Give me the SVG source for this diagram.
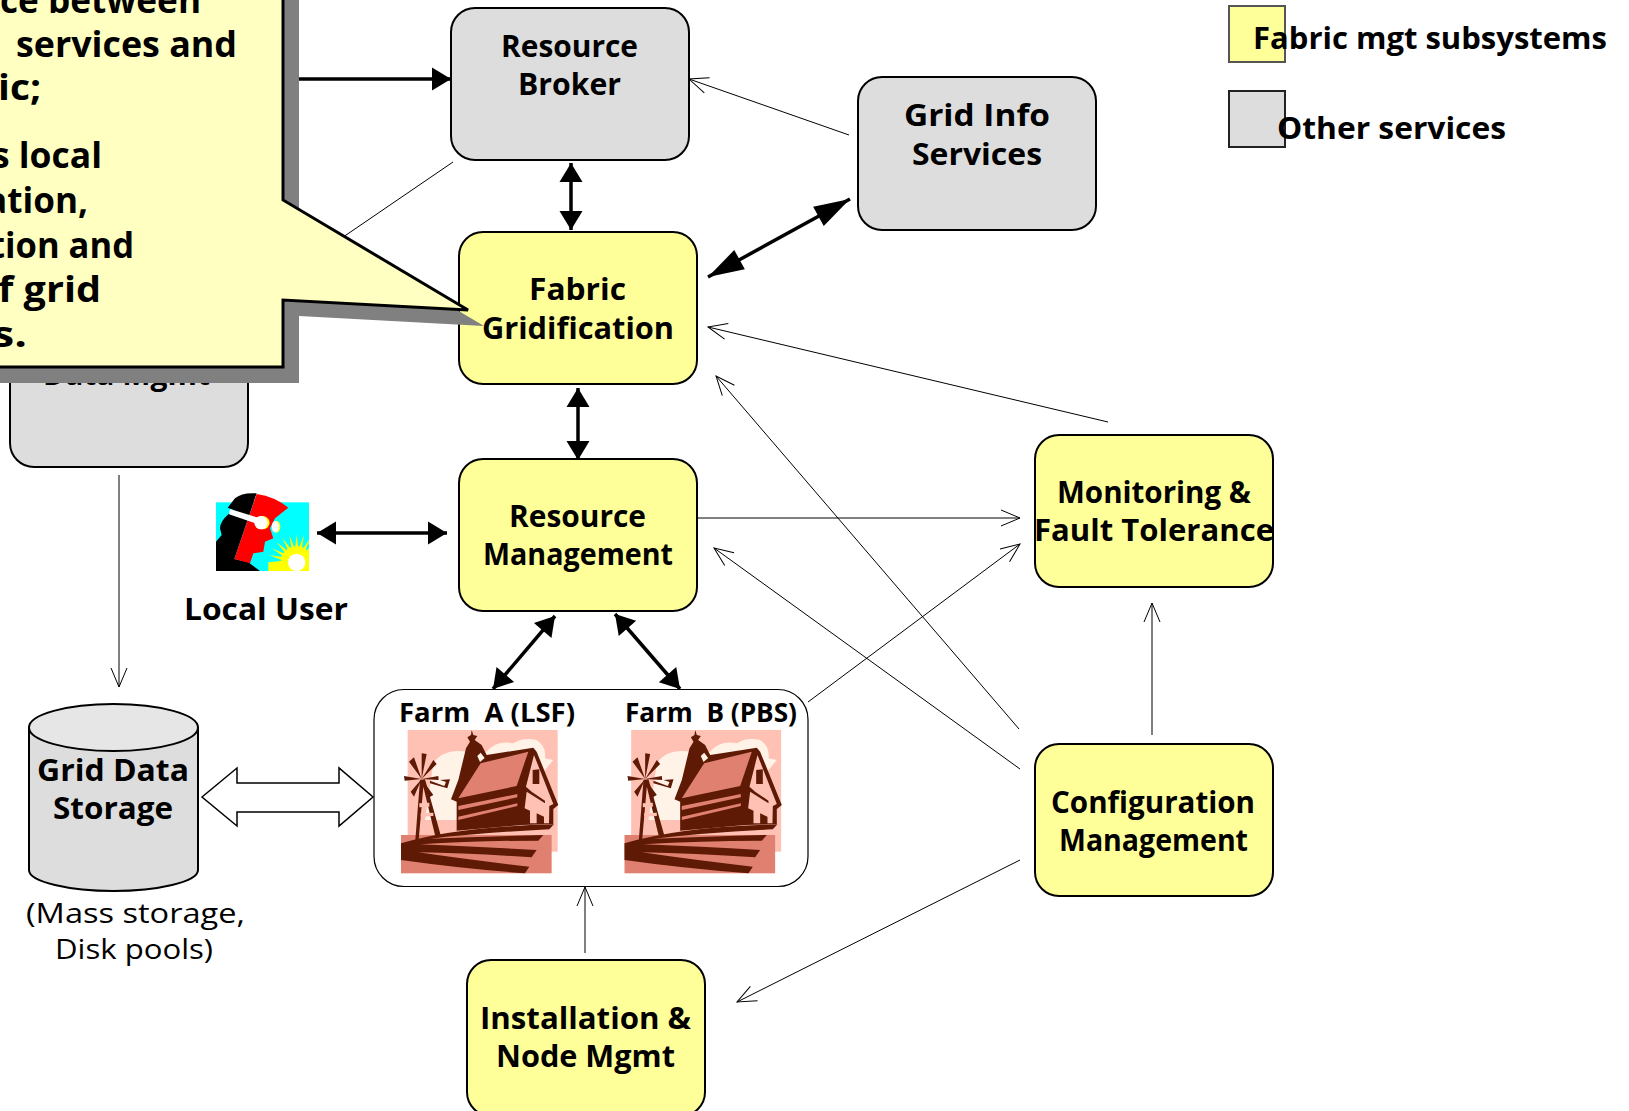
<svg xmlns="http://www.w3.org/2000/svg" xmlns:xlink="http://www.w3.org/1999/xlink" width="1629" height="1111" viewBox="0 0 1629 1111">
<style>
text{font-family:"Open Sans","Liberation Sans",sans-serif;fill:#000}
.l{font-size:30px;font-weight:700}
.c{font-size:35px;font-weight:700}
.f{font-size:27px;font-weight:700}
.n{font-size:28px;font-weight:500}
.y{fill:#FFFF99;stroke:#000;stroke-width:2}
.g{fill:#DDDDDD;stroke:#000;stroke-width:2}
.thin{fill:none;stroke:#000;stroke-width:1;marker-end:url(#open)}
.bold{fill:none;stroke:#000;stroke-width:3.500;marker-start:url(#solidS);marker-end:url(#solid)}
</style>
<defs>
<marker id="open" markerUnits="userSpaceOnUse" markerWidth="40" markerHeight="40" refX="30" refY="20" orient="auto" overflow="visible"><path d="M11,12 L30,20 L11,28" fill="none" stroke="#000" stroke-width="1"/></marker>
<marker id="solid" markerUnits="userSpaceOnUse" markerWidth="40" markerHeight="40" refX="30" refY="20" orient="auto" overflow="visible"><path d="M11,8.500 L30,20 L11,31.500 Z" fill="#000"/></marker>
<marker id="solidS" markerUnits="userSpaceOnUse" markerWidth="40" markerHeight="40" refX="10" refY="20" orient="auto" overflow="visible"><path d="M29,8.500 L10,20 L29,31.500 Z" fill="#000"/></marker>
<marker id="big" markerUnits="userSpaceOnUse" markerWidth="60" markerHeight="60" refX="50" refY="30" orient="auto" overflow="visible"><path d="M14,19 L50,30 L14,41 Z" fill="#000"/></marker>
<marker id="bigS" markerUnits="userSpaceOnUse" markerWidth="60" markerHeight="60" refX="10" refY="30" orient="auto" overflow="visible"><path d="M46,19 L10,30 L46,41 Z" fill="#000"/></marker>
<clipPath id="sunClip"><rect x="33" y="52" width="279" height="206"/></clipPath>
<g id="farmPic">
<rect x="53" y="150" width="450" height="365" fill="#FFC1B3"/>
<path d="M105,420 L130,250 Q160,205 230,215 L290,215 Q320,180 370,190 Q400,170 440,180 Q470,200 465,235 L490,240 L440,300 L400,420 Z" fill="#FFF2E6"/>
<rect x="33" y="465" width="452" height="115" fill="#E08070"/>
<g fill="#5F1A05">
<path d="M183,358 L205,300 L228,205 L240,185 L232,172 L243,165 L245,150 L250,165 L262,168 L254,180 L275,195 L290,225 L430,203 L440,215 L505,375 L490,387 L490,432 L395,435 L200,452 L200,365 Z"/>
<path d="M262,228 L272,218 L284,234 L270,246 Z" fill="#FFF2E6"/>
<path d="M90,300 L76,480 L86,480 L100,320 L135,465 L152,465 L105,298 Z"/>
<path d="M95,297 L57,245 L72,232 Z M95,297 L95,220 L110,222 Z M95,297 L130,240 L140,252 Z M95,297 L145,288 L146,300 Z M95,297 L130,345 L118,352 Z M95,297 L62,335 L72,350 Z M95,297 L42,288 L44,302 Z"/>
<path d="M120,310 L172,325 L180,298 L150,300 L168,306 L163,318 L120,302 Z"/>
<path d="M33,490 Q200,440 492,433 L478,448 Q280,458 120,476 Q280,470 460,465 L445,482 Q260,482 90,493 Q260,500 440,510 L425,532 Q240,520 85,517 Q240,540 418,560 L405,580 Q210,565 33,540 Z"/>
</g>
<path d="M205,355 L272,250 L415,215 L380,318 Z" fill="#E08070"/>
<path d="M408,320 L432,225 L490,372 L478,378 L477,430 L462,430 L462,410 L440,400 L440,430 L420,430 L420,392 L404,385 L410,335 L465,370 L465,362 L425,335 Z" fill="#FFC1B3"/>
<path d="M428,270 L448,268 L448,312 L428,312 Z" fill="#5F1A05"/>
<path d="M205,378 L382,342 L382,352 L205,390 Z M205,410 L382,370 L382,378 L205,420 Z" fill="#E08070"/>
<path d="M88,370 L118,368 L118,380 L88,382 Z M92,400 L130,398 L130,408 L92,410 Z" fill="#FFC1B3"/>
</g>
</defs>
<rect width="1629" height="1111" fill="#fff"/>

<g id="node-data-mgmt"><rect class="g" x="10" y="300" width="238" height="167" rx="24"/><text class="l" x="43" y="385" textLength="167" lengthAdjust="spacingAndGlyphs">Data Mgmt</text></g>

<g id="connectors">
<path class="thin" d="M849,135 L689,79"/>
<path class="thin" d="M1108,422 L708,327"/>
<path class="thin" d="M1019,729 L716,376"/>
<path class="thin" d="M1020,769 L714,548"/>
<path class="thin" d="M697,518 L1020,518"/>
<path class="thin" d="M808,702 L1020,544"/>
<path class="thin" d="M1152,735 L1152,603"/>
<path class="thin" d="M1020,860 L737,1002"/>
<path class="thin" d="M585,953 L585,887"/>
<path class="thin" d="M119,475 L119,687"/>
<path d="M280,79 L451,79" fill="none" stroke="#000" stroke-width="3.500" marker-end="url(#solid)"/>
<path class="bold" d="M571,163 L571,230"/>
<path d="M708,277 L850,199" fill="none" stroke="#000" stroke-width="3.500" marker-start="url(#bigS)" marker-end="url(#big)"/>
<path class="bold" d="M578,388 L578,460"/>
<path class="bold" d="M317,533 L447,533"/>
<path class="bold" d="M555,616 L493,689"/>
<path class="bold" d="M615,614 L680,689"/>
<path d="M453,162 L330,246" fill="none" stroke="#000" stroke-width="1"/>
<path d="M202,797 L237,768 L237,783 L339,783 L339,768 L373,797 L339,826 L339,812 L237,812 L237,826 Z" fill="#fff" stroke="#000" stroke-width="1.500"/>
</g>

<g id="node-resource-broker"><rect class="g" x="451" y="8" width="238" height="152" rx="24"/>
<text class="l" x="501" y="57" textLength="137" lengthAdjust="spacingAndGlyphs">Resource</text><text class="l" x="518" y="95" textLength="103" lengthAdjust="spacingAndGlyphs">Broker</text></g>
<g id="node-grid-info"><rect class="g" x="858" y="77" width="238" height="153" rx="24"/>
<text class="l" x="904" y="126" textLength="146" lengthAdjust="spacingAndGlyphs">Grid Info</text><text class="l" x="912" y="165" textLength="130" lengthAdjust="spacingAndGlyphs">Services</text></g>
<g id="node-fabric-gridification"><rect class="y" x="459" y="232" width="238" height="152" rx="24"/>
<text class="l" x="529" y="300" textLength="97" lengthAdjust="spacingAndGlyphs">Fabric</text><text class="l" x="482" y="339" textLength="192" lengthAdjust="spacingAndGlyphs">Gridification</text></g>
<g id="node-resource-management"><rect class="y" x="459" y="459" width="238" height="152" rx="24"/>
<text class="l" x="509" y="527" textLength="137" lengthAdjust="spacingAndGlyphs">Resource</text><text class="l" x="483" y="565" textLength="190" lengthAdjust="spacingAndGlyphs">Management</text></g>
<g id="node-monitoring"><rect class="y" x="1035" y="435" width="238" height="152" rx="24"/>
<text class="l" x="1057" y="503" textLength="194" lengthAdjust="spacingAndGlyphs">Monitoring &amp;</text><text class="l" x="1034" y="541" textLength="240" lengthAdjust="spacingAndGlyphs">Fault Tolerance</text></g>
<g id="node-configuration"><rect class="y" x="1035" y="744" width="238" height="152" rx="24"/>
<text class="l" x="1051" y="813" textLength="204" lengthAdjust="spacingAndGlyphs">Configuration</text><text class="l" x="1059" y="851" textLength="189" lengthAdjust="spacingAndGlyphs">Management</text></g>
<g id="node-installation"><rect class="y" x="467" y="960" width="238" height="156" rx="24"/>
<text class="l" x="480" y="1029" textLength="211" lengthAdjust="spacingAndGlyphs">Installation &amp;</text><text class="l" x="496" y="1067" textLength="179" lengthAdjust="spacingAndGlyphs">Node Mgmt</text></g>

<g id="node-farms"><rect x="374" y="689.500" width="434" height="197" rx="30" fill="#fff" stroke="#000" stroke-width="1.200"/>
<text class="f" x="399" y="722" textLength="176" lengthAdjust="spacingAndGlyphs" xml:space="preserve">Farm  A (LSF)</text>
<text class="f" x="625" y="722" textLength="172" lengthAdjust="spacingAndGlyphs" xml:space="preserve">Farm  B (PBS)</text>
<use href="#farmPic" xlink:href="#farmPic" transform="translate(390,680) scale(.3333)"/>
<use href="#farmPic" xlink:href="#farmPic" transform="translate(613.500,680) scale(.3333)"/>
</g>

<g id="node-storage">
<path class="g" d="M29,727.500 L29,870 C29,882 70,891 113.500,891 C157,891 198,882 198,870 L198,727.500 Z"/>
<ellipse cx="113.500" cy="727.500" rx="84.500" ry="23.500" fill="#E6E6E6" stroke="#000" stroke-width="2"/>
<text class="l" x="37" y="781" textLength="152" lengthAdjust="spacingAndGlyphs">Grid Data</text><text class="l" x="53" y="819" textLength="120" lengthAdjust="spacingAndGlyphs">Storage</text>
<text class="n" x="26" y="923" textLength="219" lengthAdjust="spacingAndGlyphs">(Mass storage,</text><text class="n" x="55" y="959" textLength="158" lengthAdjust="spacingAndGlyphs">Disk pools)</text>
</g>

<g id="node-local-user" transform="translate(205,485) scale(.3333)">
<rect x="33" y="52" width="279" height="206" fill="#00FFFF"/>
<g clip-path="url(#sunClip)">
<circle cx="275" cy="232" r="48" fill="#FFFF00"/>
<path d="M190,232 L235,227 L193,210 L238,217 L201,190 L243,208 L215,172 L251,200 L232,158 L260,195 L253,150 L270,192 L275,147 L280,192 L297,150 L290,195 L318,158 L299,200 L335,172 L320,262 L190,262 Z" fill="#FFFF00"/>
<circle cx="275" cy="232" r="26" fill="#FFFFFF"/>
</g>
<path d="M155,25 Q110,22 90,40 L68,68 L85,75 L70,88 Q45,110 45,130 L50,150 L33,170 L33,258 L165,258 L130,232 L88,222 Z" fill="#000"/>
<path d="M155,27 Q210,35 250,68 L210,100 L195,130 L205,160 L180,170 L175,200 L145,205 L135,235 L88,222 Z" fill="#FF0000"/>
<path d="M75,72 L165,100 L160,118 L72,88 Z" fill="#fff"/>
<ellipse cx="172" cy="113" rx="22" ry="20" fill="#FFFF00"/><ellipse cx="168" cy="113" rx="20" ry="20" fill="#fff"/>
<ellipse cx="214" cy="125" rx="12" ry="18" fill="#FFFF00"/><ellipse cx="211" cy="125" rx="11" ry="17" fill="#fff"/>
</g>
<text id="label-local-user" class="l" x="184" y="620" textLength="164" lengthAdjust="spacingAndGlyphs">Local User</text>

<g id="callout">
<path d="M-20,-20 L299,-20 L299,216 L484,326 L299,316 L299,383 L-20,383 Z" fill="#808080"/>
<path d="M-20,-20 L283,-20 L283,200 L468,310 L283,300 L283,367 L-20,367 Z" fill="#FFFFC2" stroke="#000" stroke-width="3"/>
<text class="c" x="0" y="13" textLength="201" lengthAdjust="spacingAndGlyphs">ce between</text>
<text class="c" x="16" y="57" textLength="221" lengthAdjust="spacingAndGlyphs">services and</text>
<text class="c" x="-2" y="100" textLength="43" lengthAdjust="spacingAndGlyphs">ic;</text>
<text class="c" x="-8" y="168" textLength="110" lengthAdjust="spacingAndGlyphs">s local</text>
<text class="c" x="-14" y="213" textLength="102" lengthAdjust="spacingAndGlyphs">ation,</text>
<text class="c" x="-10" y="258" textLength="144" lengthAdjust="spacingAndGlyphs">tion and</text>
<text class="c" x="-2" y="302" textLength="103" lengthAdjust="spacingAndGlyphs">f grid</text>
<text class="c" x="-8" y="347" textLength="35" lengthAdjust="spacingAndGlyphs">s.</text>
</g>

<g id="legend">
<rect x="1229" y="6" width="56" height="56" fill="#FFFF99" stroke="#555" stroke-width="2"/>
<rect x="1229" y="91" width="56" height="56" fill="#DDDDDD" stroke="#222" stroke-width="2"/>
<text class="l" x="1253" y="49" textLength="354" lengthAdjust="spacingAndGlyphs">Fabric mgt subsystems</text>
<text class="l" x="1277" y="139" textLength="229" lengthAdjust="spacingAndGlyphs">Other services</text>
</g>
</svg>
